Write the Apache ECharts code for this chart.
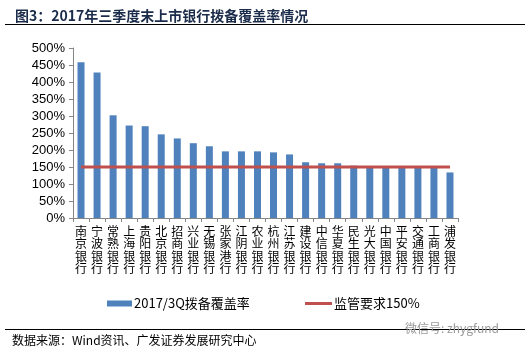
<!DOCTYPE html>
<html>
<head>
<meta charset="utf-8">
<script src="https://cdn.jsdelivr.net/npm/echarts@6/dist/echarts.min.js"></script>
<style>
  html, body { margin: 0; padding: 0; background: #fff; }
  #main { width: 530px; height: 353px; }
</style>
</head>
<body>
<div id="main"></div>
<script>
  // 银行名称
  var banks = ['南京银行', '宁波银行', '常熟银行', '上海银行', '贵阳银行', '北京银行', '招商银行', '兴业银行',
    '无锡银行', '张家港行', '江阴银行', '农业银行', '杭州银行', '江苏银行', '建设银行', '中信银行',
    '华夏银行', '民生银行', '光大银行', '中国银行', '平安银行', '交通银行', '工商银行', '浦发银行'];
  // 2017/3Q 拨备覆盖率 (%)
  var coverage = [458, 428, 302, 272, 270, 246, 234, 220, 211, 196, 196, 196, 193, 187, 164, 161,
    161, 154, 152, 151, 152, 151, 150, 134];
  // 监管要求
  var requirement = banks.map(function () { return 150; });
  var yTicks = { min: 0, max: 500, interval: 50 };

  var cjk = '"Noto Sans CJK SC", sans-serif';
  var latin = '"Liberation Sans", Arial, sans-serif';

  var chart = echarts.init(document.getElementById('main'));
  chart.setOption({
    animation: false,
    title: {
      text: '图3：2017年三季度末上市银行拨备覆盖率情况',
      left: 10, top: 4,
      textStyle: { fontFamily: cjk, fontSize: 14, fontWeight: 'bold', color: '#1b2b4a' }
    },
    graphic: [
      { type: 'line', shape: { x1: 5, y1: 24.5, x2: 525, y2: 24.5 }, style: { stroke: '#000', lineWidth: 1 } },
      { type: 'line', shape: { x1: 5, y1: 329.5, x2: 525, y2: 329.5 }, style: { stroke: '#000', lineWidth: 1 } },
      { type: 'text', left: 12, top: 334, style: { text: '数据来源：Wind资讯、广发证券发展研究中心', font: '12px ' + cjk, fill: '#000' } },
      { type: 'text', left: 405, top: 322, style: { text: '微信号: zhygfund', font: '12px ' + cjk, fill: '#9a9a9a' } }
    ],
    legend: [
      {
        data: [{ name: '2017/3Q拨备覆盖率', icon: 'rect' }],
        left: 102, top: 292, itemWidth: 25, itemHeight: 6, itemGap: 2,
        textStyle: { fontFamily: cjk, fontSize: 13, color: '#000', padding: [0, 0, 0, -3] }
      },
      {
        data: [{ name: '监管要求150%', icon: 'rect' }],
        left: 300, top: 292, itemWidth: 27, itemHeight: 3,
        textStyle: { fontFamily: cjk, fontSize: 13, color: '#000', padding: [0, 0, 0, -3] }
      }
    ],
    grid: { left: 73, right: 72, top: 48, bottom: 135, containLabel: false },
    xAxis: {
      type: 'category',
      data: banks,
      axisLine: { lineStyle: { color: '#868686' } },
      axisTick: { show: true, length: 4, lineStyle: { color: '#868686' } },
      axisLabel: {
        interval: 0, margin: 7,
        fontFamily: cjk, fontSize: 12, lineHeight: 12.5, color: '#000',
        formatter: function (v) { return v.split('').join('\n'); }
      }
    },
    yAxis: {
      type: 'value',
      min: yTicks.min, max: yTicks.max, interval: yTicks.interval,
      splitLine: { show: false },
      axisLine: { show: true, lineStyle: { color: '#868686' } },
      axisTick: { show: true, length: 4, lineStyle: { color: '#868686' } },
      axisLabel: { fontFamily: latin, fontSize: 13, color: '#000', margin: 8, formatter: '{value}%' }
    },
    series: [
      {
        name: '2017/3Q拨备覆盖率',
        type: 'bar',
        data: coverage,
        barWidth: 7,
        itemStyle: { color: '#4F81BD' }
      },
      {
        name: '监管要求150%',
        type: 'line',
        data: requirement,
        symbol: 'none',
        lineStyle: { color: '#C0504D', width: 3 },
        itemStyle: { color: '#C0504D' },
        z: 3
      }
    ]
  });
</script>
</body>
</html>
